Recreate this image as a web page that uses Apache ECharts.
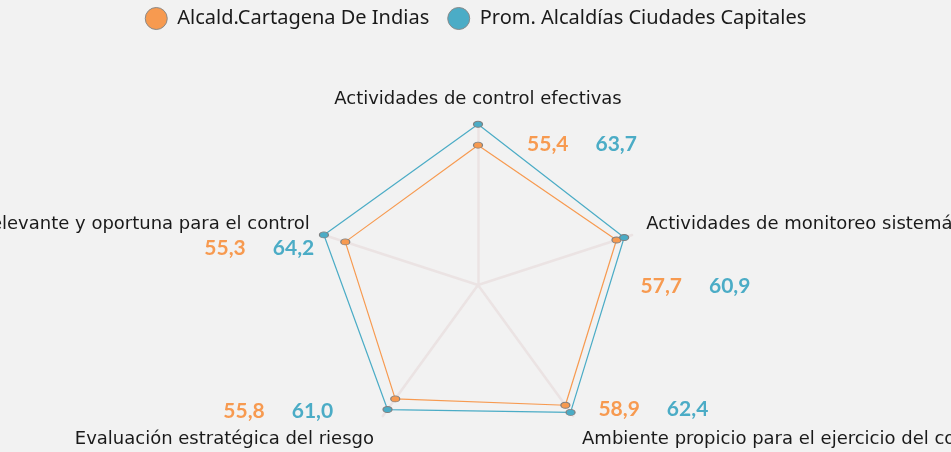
<!DOCTYPE html>
<html>
<head>
<meta charset="utf-8">
<script src="https://cdn.jsdelivr.net/npm/echarts@6/dist/echarts.min.js"></script>
<style>
  html, body { margin: 0; padding: 0; background: #f2f2f2; }
  #radar { width: 951px; height: 452px; }
</style>
</head>
<body>
<div id="radar"></div>
<script>
// indicadores (orden antihorario desde arriba, como los pone echarts)
const indicadores = [
  "Actividades de control efectivas",
  "Información relevante y oportuna para el control",
  "Evaluación estratégica del riesgo",
  "Ambiente propicio para el ejercicio del control",
  "Actividades de monitoreo sistemáticas"
];
const cartagena = [55.4, 55.3, 55.8, 58.9, 57.7];
const promedio = [63.7, 64.2, 61.0, 62.4, 60.9];
const serieNombres = ["Alcald.Cartagena De Indias", "Prom. Alcaldías Ciudades Capitales"];

const naranja = "#f79a50";
const azul = "#4bacc6";

// desplazamiento de las etiquetas de valores respecto al vértice naranja
const desplazamientos = [
  [104, -1],
  [-86, 6],
  [-117, 12],
  [88, 4],
  [79, 46]
];
// estilo del nombre de cada eje (ajuste vertical)
const estiloNombre = ["n", "lado", "abajo", "abajo", "lado"];

const fmt = v => v.toFixed(1).replace(".", ",");
const maxEje = Math.max(...promedio);

const numStyle = {
  fontFamily: "Lato",
  fontWeight: "bold",
  fontSize: 21
};

// series ocultas, solo para llevar las etiquetas de cada eje
const seriesEtiquetas = indicadores.map((nombre, i) => ({
  type: "radar",
  silent: true,
  symbolSize: 0,
  lineStyle: { opacity: 0 },
  itemStyle: { color: "transparent" },
  z: 5,
  label: {
    show: true,
    position: "inside",
    offset: desplazamientos[i],
    formatter: p => (isNaN(+p.value) ? "" : "{o|" + fmt(cartagena[i]) + "}{s|}{b|" + fmt(promedio[i]) + "}"),
    rich: {
      o: Object.assign({ color: naranja }, numStyle),
      b: Object.assign({ color: azul }, numStyle),
      s: { width: 27 }
    }
  },
  data: [{ value: cartagena.map((v, j) => (j === i ? v : "-")) }]
}));

const fuenteEje = { fontFamily: "DejaVu Sans", fontSize: 18, color: "#1a1a1a" };

const chart = echarts.init(document.getElementById("radar"));
chart.setOption({
  backgroundColor: "#f2f2f2",
  animation: false,
  legend: {
    data: serieNombres,
    top: 2,
    left: "center",
    icon: "circle",
    itemWidth: 22,
    itemHeight: 22,
    itemGap: 18,
    itemStyle: { borderColor: "#8a8a8a", borderWidth: 1 },
    textStyle: { fontFamily: "Noto Sans", fontSize: 20, color: "#1a1a1a", padding: [0, 0, 0, 5] }
  },
  radar: {
    center: [478, 285],
    radius: 162,
    startAngle: 90,
    shape: "polygon",
    splitNumber: 1,
    indicator: indicadores.map(n => ({ name: n, min: 0, max: maxEje })),
    axisName: {
      color: "#1a1a1a",
      fontFamily: "DejaVu Sans",
      fontSize: 18,
      formatter: (name) => "{" + estiloNombre[indicadores.indexOf(name)] + "|" + name + "}",
      rich: {
        n: Object.assign({}, fuenteEje),
        lado: Object.assign({ padding: [0, 0, 12, 0] }, fuenteEje),
        abajo: Object.assign({ padding: [22, 0, 0, 0] }, fuenteEje)
      }
    },
    nameGap: 15,
    axisLine: { lineStyle: { color: "#ebe3e3", width: 2.5 } },
    splitLine: { show: false },
    splitArea: { show: false }
  },
  series: [
    {
      type: "radar",
      name: serieNombres[0],
      z: 3,
      symbol: "circle",
      symbolSize: [9, 6],
      lineStyle: { color: naranja, width: 1.2 },
      itemStyle: { color: naranja, borderColor: "#7f7f7f", borderWidth: 1 },
      data: [{ value: cartagena, name: serieNombres[0] }]
    },
    {
      type: "radar",
      name: serieNombres[1],
      z: 3,
      symbol: "circle",
      symbolSize: [9, 6],
      lineStyle: { color: azul, width: 1.2 },
      itemStyle: { color: azul, borderColor: "#7f7f7f", borderWidth: 1 },
      data: [{ value: promedio, name: serieNombres[1] }]
    }
  ].concat(seriesEtiquetas)
});
</script>
</body>
</html>
